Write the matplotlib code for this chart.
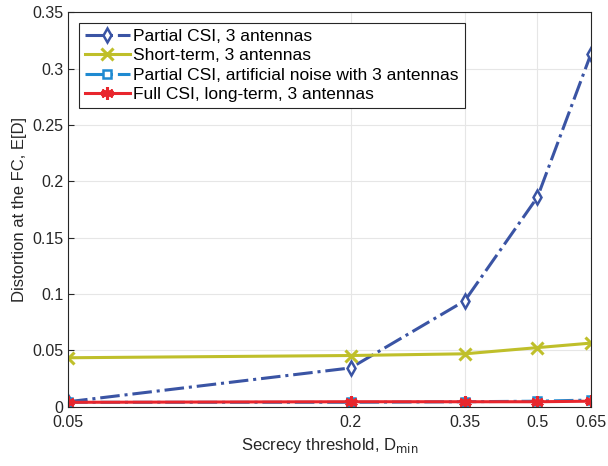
# Distortion vs secrecy threshold
import matplotlib
matplotlib.use('Agg')
from matplotlib import pyplot as plt
from matplotlib.ticker import NullLocator

plt.rcParams['font.family'] = ['Liberation Sans', 'DejaVu Sans']

d_min = [0.05, 0.2, 0.35, 0.5, 0.65]
partial_csi = [0.0045, 0.0345, 0.094, 0.186, 0.313]
short_term = [0.0435, 0.0455, 0.047, 0.0525, 0.0565]
partial_an = [0.004, 0.004, 0.0045, 0.005, 0.006]
full_csi = [0.004, 0.0045, 0.0045, 0.0045, 0.005]

fig = plt.figure(figsize=(6.08, 4.66), dpi=100)
ax = fig.add_axes([0.112, 0.127, 0.86, 0.847])

ax.plot(d_min, partial_csi, '-.', color='#3a54a4', lw=2.2, marker='d', ms=7,
        mfc='white', mec='#3a54a4', mew=1.8, label='Partial CSI, 3 antennas')
ax.plot(d_min, short_term, '-', color='#bfbf2a', lw=2.2, marker='x', ms=9,
        mew=2.2, label='Short-term, 3 antennas')
ax.plot(d_min, partial_an, '-.', color='#1f8ad1', lw=2.2, marker='s', ms=6,
        mfc='white', mec='#1f8ad1', mew=1.8,
        label='Partial CSI, artificial noise with 3 antennas')
ax.plot(d_min, full_csi, '-', color='#e8262d', lw=2.2, marker=(6, 2, 0), ms=9,
        mew=2.2, label='Full CSI, long-term, 3 antennas')

ax.set_xscale('log')
ax.set_xlim(0.05, 0.65)
ax.set_ylim(0, 0.35)
ax.xaxis.set_minor_locator(NullLocator())
ax.set_xticks(d_min)
ax.set_xticklabels(['0.05', '0.2', '0.35', '0.5', '0.65'])
ax.set_yticks([0, 0.05, 0.1, 0.15, 0.2, 0.25, 0.3, 0.35])
ax.set_yticklabels(['0', '0.05', '0.1', '0.15', '0.2', '0.25', '0.3', '0.35'])
ax.grid(True, which='major', color='#e6e6e6', lw=0.8)
ax.set_axisbelow(True)
for s in ax.spines.values():
    s.set_color('#262626')
    s.set_linewidth(0.8)
ax.tick_params(labelsize=11.5, colors='#262626', direction='in', length=4)
ax.tick_params(axis='x', pad=6)

ax.set_xlabel('Secrecy threshold, D$_{\\mathrm{min}}$', fontsize=12, color='#262626')
ax.set_ylabel('Distortion at the FC, E[D]', fontsize=12, color='#262626')

leg = ax.legend(loc='upper left', fontsize=12.5, fancybox=False, framealpha=1,
                edgecolor='#262626', handlelength=2.6, handletextpad=0.2,
                borderpad=0.35, labelspacing=0.25, borderaxespad=0.6)
leg.get_frame().set_linewidth(0.8)

plt.savefig('out.png', dpi=100)
